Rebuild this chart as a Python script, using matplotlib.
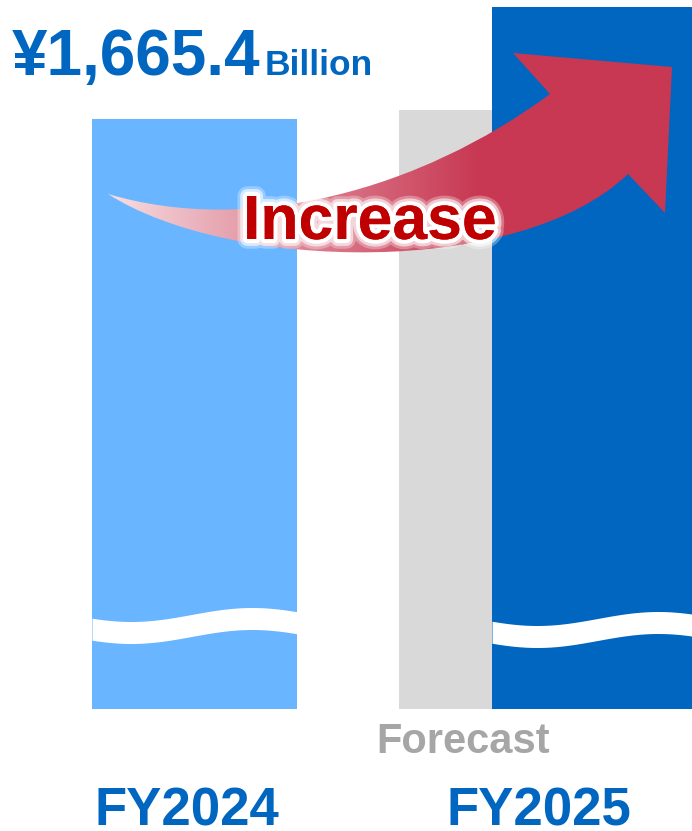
import numpy as np
import matplotlib
matplotlib.use("Agg")
import matplotlib.pyplot as plt
from matplotlib.path import Path
from matplotlib.patches import PathPatch
import matplotlib.patheffects as pe

plt.rcParams['font.family'] = ['Liberation Sans', 'DejaVu Sans']

# data (¥ billion)
categories = ['FY2024', 'FY2025']
fy2024_value = 1665.4
fy2025_prev_forecast = 1676.0
fy2025_forecast = 1799.8
value_label = '¥1,665.4'
unit_label = 'Billion'

# colours
c_light = '#69B5FF'
c_blue = '#0066C0'
c_gray = '#D9D9D9'
c_label_gray = '#A6A6A6'
c_red_text = '#C00000'

fig = plt.figure(figsize=(6.92, 8.31), dpi=100)

# bar axes: broken value axis, 1 px = 1.2 billion
ax = fig.add_axes([0, 0, 1, 1])
ax.set_xlim(0, 692)
ax.set_ylim(811.0, 1808.2)
ax.axis('off')
base = 957.4
ax.bar(92, fy2024_value - base, width=205, bottom=base, align='edge', color=c_light, zorder=2)
ax.bar(399, fy2025_prev_forecast - base, width=200, bottom=base, align='edge', color=c_gray, zorder=1)
ax.bar(492, fy2025_forecast - base, width=200, bottom=base, align='edge', color=c_blue, zorder=3)

# overlay in pixel coordinates (y down)
ov = fig.add_axes([0, 0, 1, 1], zorder=5)
ov.set_xlim(0, 692)
ov.set_ylim(831, 0)
ov.axis('off')
ov.patch.set_alpha(0)

# wave break marks
def wave(x0, x1, xlow, ymid):
    xs = np.linspace(x0, x1, 200)
    yc = ymid + 7 * np.cos(2 * np.pi * (xs - xlow) / 242)
    ov.fill_between(xs, yc - 11, yc + 11, color='white', lw=0, zorder=2)

wave(92, 297, 131, 625.5)
wave(492, 692, 537, 629.5)

# curved arrow
verts = [(108, 194),
         (250, 236), (420, 190), (550, 94),
         (513, 53), (672, 67), (665, 213), (628, 174),
         (520, 278), (230, 272), (108, 194)]
codes = [Path.MOVETO,
         Path.CURVE4, Path.CURVE4, Path.CURVE4,
         Path.LINETO, Path.LINETO, Path.LINETO, Path.LINETO,
         Path.CURVE4, Path.CURVE4, Path.CURVE4]
arrow_path = Path(verts, codes)
clip = PathPatch(arrow_path, facecolor='none', edgecolor='none', transform=ov.transData)
ov.add_patch(clip)

gx = np.linspace(100, 680, 300)
t = np.clip((gx - 108) / (480 - 108), 0, 1) ** 0.9
c0 = np.array([248, 225, 229]) / 255
c1 = np.array([200, 56, 82]) / 255
row = c0[None, :] * (1 - t[:, None]) + c1[None, :] * t[:, None]
img = np.repeat(row[None, :, :], 2, axis=0)
im = ov.imshow(img, extent=(100, 680, 260, 45), aspect='auto', zorder=3, interpolation='bilinear')
im.set_clip_path(clip)
ov.set_xlim(0, 692)
ov.set_ylim(831, 0)

# texts
ov.text(12, 75, value_label, fontsize=46, fontweight='bold', color=c_blue,
        ha='left', va='baseline', zorder=6)
ov.text(265, 75, unit_label, fontsize=25.5, fontweight='bold', color=c_blue,
        ha='left', va='baseline', zorder=6)

glow = [pe.withStroke(linewidth=14, foreground='white', alpha=0.3),
        pe.withStroke(linewidth=10, foreground='white', alpha=0.6),
        pe.withStroke(linewidth=6, foreground='white'),
        pe.Normal()]
ov.text(243, 239, 'Increase', fontsize=45, fontweight='bold', color=c_red_text,
        ha='left', va='baseline', zorder=7, path_effects=glow)

ov.text(463, 753, 'Forecast', fontsize=30, fontweight='bold', color=c_label_gray,
        ha='center', va='baseline', zorder=6)
ov.text(187, 826, categories[0], fontsize=38, fontweight='bold', color=c_blue,
        ha='center', va='baseline', zorder=6)
ov.text(539, 826, categories[1], fontsize=38, fontweight='bold', color=c_blue,
        ha='center', va='baseline', zorder=6)

fig.savefig('out.png', dpi=100)
